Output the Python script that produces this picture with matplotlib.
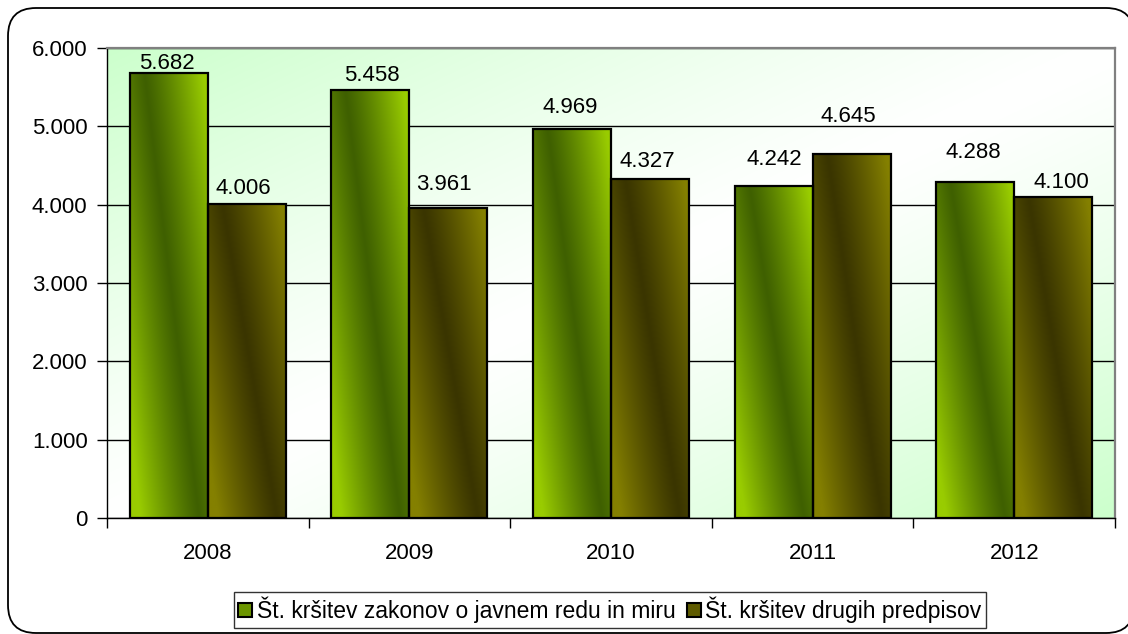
import matplotlib
matplotlib.use('Agg')
import matplotlib.pyplot as plt
import numpy as np
from matplotlib.patches import FancyBboxPatch, Patch
from matplotlib.ticker import FuncFormatter, FixedLocator

plt.rcParams['font.family'] = ['Liberation Sans', 'DejaVu Sans']

# data
years = ['2008', '2009', '2010', '2011', '2012']
javni_red = [5682, 5458, 4969, 4242, 4288]
drugi_predpisi = [4006, 3961, 4327, 4645, 4100]
series_names = ['Št. kršitev zakonov o javnem redu in miru', 'Št. kršitev drugih predpisov']

# label offsets in pixels (dx, dy above bar top)
offs1 = [(-2, 9), (1, 15), (-2, 21), (1, 26), (-2, 30)]
offs2 = [(-3, 16), (-4, 23), (-3, 18), (-3, 38), (8, 14)]

light1, dark1 = np.array([0x99, 0xCC, 0x00]) / 255, np.array([0x3F, 0x60, 0x00]) / 255
light2, dark2 = np.array([0x84, 0x80, 0x00]) / 255, np.array([0x3A, 0x35, 0x00]) / 255

FS = 16

fig = plt.figure(figsize=(11.28, 6.34), dpi=100)

# background with the rounded frame, in pixel units
bg = fig.add_axes([0, 0, 1, 1], zorder=-10)
bg.set_xlim(0, 1128)
bg.set_ylim(634, 0)
bg.axis('off')
bg.add_patch(FancyBboxPatch((8, 8), 1126, 625, boxstyle='round,pad=0,rounding_size=28',
                            fc='white', ec='black', lw=1.3))

ax = fig.add_axes([107 / 1128, 1 - 518 / 634, (1115 - 107) / 1128, (518 - 48) / 634])
ax.set_facecolor('none')

# plot area gradient: light green top-left and bottom-right, white in between
n = 200
u = np.linspace(0, 1, n)
U, V = np.meshgrid(u, u)
s = np.abs((U + V) / 2 - 0.5) * 2
s = np.clip(s, 0, 1) ** 1.2
green = np.array([0xCC, 0xFF, 0xCC]) / 255
img = np.ones((n, n, 3)) * (1 - s[..., None]) + green * s[..., None]
ax.imshow(img, extent=(0, 1, 0, 1), transform=ax.transAxes, aspect='auto',
          interpolation='bilinear', zorder=0)

x = np.arange(len(years))
w = 0.387
bars1 = ax.bar(x - w / 2, javni_red, w, facecolor='none', edgecolor='black', lw=1.6, zorder=4)
bars2 = ax.bar(x + w / 2, drugi_predpisi, w, facecolor='none', edgecolor='black', lw=1.6, zorder=4)


def shade(rects, light, dark):
    nx, ny = 60, 120
    uu = np.linspace(0, 1, nx)
    vv = np.linspace(1, 0, ny)
    UU, VV = np.meshgrid(uu, vv)
    d = 0.88 - 0.7 * VV
    t = np.clip(np.abs(UU - d) / 0.75, 0, 1) ** 1.15
    arr = dark + (light - dark) * t[..., None]
    for r in rects:
        x0 = r.get_x()
        ax.imshow(arr, extent=(x0, x0 + r.get_width(), 0, r.get_height()),
                  aspect='auto', interpolation='bilinear', zorder=3)


shade(bars1, light1, dark1)
shade(bars2, light2, dark2)

for rects, offs in ((bars1, offs1), (bars2, offs2)):
    for r, (dx, dy) in zip(rects, offs):
        h = r.get_height()
        ax.annotate(f'{h / 1000:.3f}', xy=(r.get_x() + r.get_width() / 2, h),
                    xytext=(dx * 0.72, dy * 0.72), textcoords='offset points',
                    ha='center', va='center', fontsize=FS, zorder=6,
                    annotation_clip=False)

ax.set_xlim(-0.5, 4.5)
ax.set_ylim(0, 6000)
ax.set_yticks(np.arange(0, 6001, 1000))
ax.yaxis.set_major_formatter(FuncFormatter(lambda v, p: '0' if v == 0 else f'{v / 1000:.3f}'))
ax.grid(axis='y', color='black', lw=1, zorder=1)
ax.set_axisbelow(True)

ax.xaxis.set_major_locator(FixedLocator(np.arange(-0.5, 5, 1)))
ax.xaxis.set_minor_locator(FixedLocator(x))
ax.set_xticklabels([], minor=False)
ax.set_xticklabels(years, minor=True)
ax.tick_params(axis='x', which='major', length=7, width=1, direction='out')
ax.tick_params(axis='x', which='minor', length=0, pad=18, labelsize=FS)
ax.tick_params(axis='y', length=7, width=1, direction='out', pad=7, labelsize=FS)

for side in ('top', 'right'):
    ax.spines[side].set_color('#808080')
    ax.spines[side].set_linewidth(1.6)
for side in ('left', 'bottom'):
    ax.spines[side].set_color('black')
    ax.spines[side].set_linewidth(1)
ax.spines['bottom'].set_zorder(5)

handles = [Patch(facecolor=(light1 + dark1) / 2, edgecolor='black', lw=1.5),
           Patch(facecolor=(light2 + dark2) / 2, edgecolor='black', lw=1.5)]
leg = fig.legend(handles, series_names, loc='center', bbox_to_anchor=(610 / 1128, 1 - 610 / 634),
                 ncol=2, fontsize=16.5, frameon=True, fancybox=False, edgecolor='black',
                 handlelength=0.6, handleheight=0.6, handletextpad=0.2, columnspacing=0.5,
                 borderpad=0.2, borderaxespad=0)
leg.get_frame().set_linewidth(1)

fig.savefig('out.png', dpi=100)
